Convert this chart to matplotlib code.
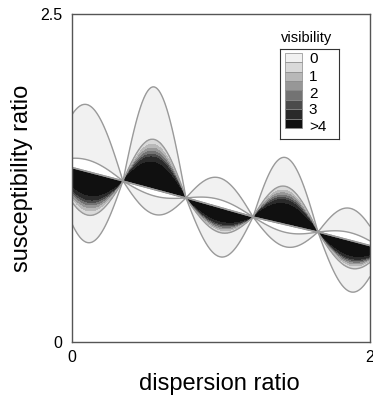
import numpy as np
import matplotlib.pyplot as plt
from matplotlib.patches import Rectangle

plt.rcParams['font.family'] = ['Liberation Sans', 'DejaVu Sans']

# pinch points of the visibility lobes (dispersion ratio, susceptibility ratio)
node_x = [-0.14, 0.342, 0.765, 1.215, 1.651, 2.09]
node_y = [1.37, 1.227, 1.098, 0.953, 0.838, 0.707]
# per-lobe shape (peak half-widths in susceptibility units)
dark_side = [-1, 1, -1, 1, -1]
outer_dark = [0.54, 0.78, 0.375, 0.51, 0.39]
grade_dark = [0.33, 0.38, 0.19, 0.29, 0.21]
outer_crack = [0.51, 0.19, 0.225, 0.17, 0.245]
lens = [0.09, 0.05, 0.06, 0.06, 0.06]

levels = [0, 0.5, 1, 1.5, 2, 2.5, 3, 4, 20]
band_colors = ['#f1f1f1', '#d9d9d9', '#b8b8b8', '#979797',
               '#737373', '#4b4b4b', '#2a2a2a', '#101010']
legend_labels = ['0', '1', '2', '3', '>4']
legend_label_y = [0.889, 0.689, 0.5, 0.322, 0.133]

# build the visibility field
x = np.linspace(0, 2, 900)
y = np.linspace(0, 2.5, 1100)
X, Y = np.meshgrid(x, y)
V = np.full(X.shape, -1.0)
T = Y - np.interp(X, node_x, node_y)
for k in range(len(dark_side)):
    x0, x1 = node_x[k], node_x[k + 1]
    m = (X >= x0) & (X < x1)
    w = np.sin(np.pi * (X[m] - x0) / (x1 - x0))
    t = T[m] * dark_side[k]
    e, g = outer_dark[k] * w, grade_dark[k] * w
    ec, l = outer_crack[k] * w, lens[k] * w
    q = np.clip(1 - t / np.maximum(g, 1e-9), 0, 1)
    v = np.where(t < g, 0.5 + 9.5 * q ** 1.3,
                 0.5 * (e - t) / np.maximum(e - g, 1e-9))
    v = np.maximum(v, -1)
    vc = np.clip(0.45 * np.minimum(-t - l, ec + t) / 0.02, -1, 0.45)
    V[m] = np.where(t >= 0, v, vc)

fig = plt.figure(figsize=(3.73, 3.95), dpi=100)
ax = fig.add_axes([0.193, 0.134, 0.799, 0.831])
ax.contourf(X, Y, V, levels=levels, colors=band_colors)
ax.contour(X, Y, V, levels=[0, 0.5], colors='#9a9a9a', linewidths=1.0)

ax.set_xlim(0, 2)
ax.set_ylim(0, 2.5)
ax.set_xticks([0, 2])
ax.set_xticklabels(['0', '2'])
ax.set_yticks([0, 2.5])
ax.set_yticklabels(['0', '2.5'])
ax.tick_params(length=0, labelsize=11.5)
ax.tick_params(axis='x', pad=6)
ax.tick_params(axis='y', pad=7)
for s in ax.spines.values():
    s.set_color('#555555')
    s.set_linewidth(1.0)

ax.set_xlabel('dispersion ratio', fontsize=17)
ax.set_ylabel('susceptibility ratio', fontsize=17)
ax.xaxis.set_label_coords(0.493, -0.093)
ax.yaxis.set_label_coords(-0.131, 0.5)

# legend box
leg = ax.inset_axes([0.698, 0.619, 0.198, 0.274])
leg.set_xlim(0, 1)
leg.set_ylim(0, 1)
leg.set_xticks([])
leg.set_yticks([])
for s in leg.spines.values():
    s.set_color('#333333')
    s.set_linewidth(0.8)
sw_top, sw_bot = 0.956, 0.122
h = (sw_top - sw_bot) / len(band_colors)
for i, c in enumerate(band_colors):
    leg.add_patch(Rectangle((0.085, sw_top - (i + 1) * h), 0.288, h,
                            facecolor=c, edgecolor='#8a8a8a', linewidth=0.5))
for lab, ly in zip(legend_labels, legend_label_y):
    leg.text(0.49, ly, lab, ha='left', va='center', fontsize=11)
leg.text(0.45, 1.04, 'visibility', ha='center', va='bottom', fontsize=10.5)

fig.savefig('out.png', dpi=100)
